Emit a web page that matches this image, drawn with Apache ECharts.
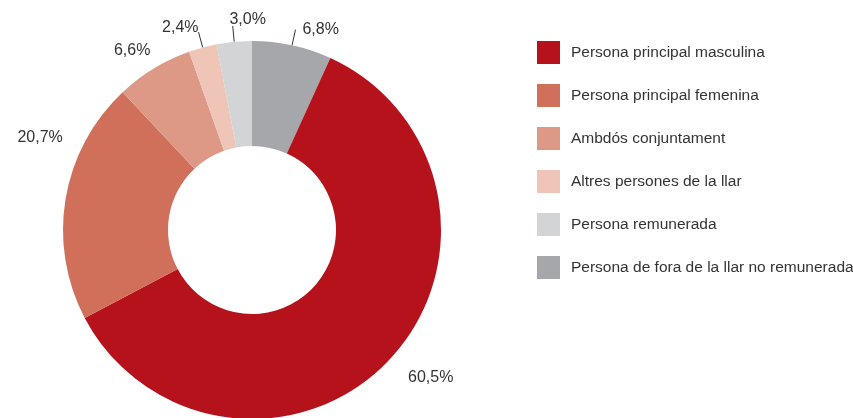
<!DOCTYPE html>
<html lang="ca">
<head>
    <meta charset="UTF-8">
    <title>Persona responsable</title>
    <style>
        html, body { margin: 0; padding: 0; background: #fff; }
        #chart { width: 853px; height: 418px; }
    </style>
</head>
<body>
<div id="chart"></div>
<script src="https://cdn.jsdelivr.net/npm/echarts@6/dist/echarts.min.js"></script>
<script>
    // categories in drawing order (clockwise from 12 o'clock)
    const categories = [
        'Persona de fora de la llar no remunerada',
        'Persona principal masculina',
        'Persona principal femenina',
        'Ambdós conjuntament',
        'Altres persones de la llar',
        'Persona remunerada'
    ];
    const values = [6.8, 60.5, 20.7, 6.6, 2.4, 3.0];
    // legend order
    const legendOrder = [
        'Persona principal masculina',
        'Persona principal femenina',
        'Ambdós conjuntament',
        'Altres persones de la llar',
        'Persona remunerada',
        'Persona de fora de la llar no remunerada'
    ];
    const colors = ['#a6a7ab', '#b5121b', '#d0705a', '#dd9985', '#efc5b8', '#d3d4d6'];
    // which slices get a leader line
    const showLine = [true, false, false, false, true, true];
    // small nudges of the percentage labels from their default place
    const labelShift = [[2, 0], [2, 7], [18, -58], [10, -4], [5, -5], [20, 2]];

    const fontFamily = '"Liberation Sans", Arial, sans-serif';

    let chart = echarts.init(document.getElementById('chart'));
    let option = {
        animation: false,
        legend: {
            orient: 'vertical',
            left: 537,
            top: 41,
            padding: 0,
            itemWidth: 23,
            itemHeight: 23,
            itemGap: 20,
            icon: 'rect',
            data: legendOrder,
            textStyle: {
                color: '#333',
                fontSize: 15.5,
                fontFamily: fontFamily,
                padding: [0, 0, 0, 6]
            }
        },
        series: [
            {
                type: 'pie',
                center: [252, 230],
                radius: [84, 189],
                startAngle: 90,
                clockwise: true,
                avoidLabelOverlap: false,
                data: categories.map((name, i) => ({
                    name: name,
                    value: values[i],
                    itemStyle: {color: colors[i]},
                    labelLine: {show: showLine[i], length: 16, length2: 0}
                })),
                label: {
                    show: true,
                    position: 'outside',
                    color: '#333',
                    fontSize: 16,
                    fontFamily: fontFamily,
                    formatter: p => p.value.toFixed(1).replace('.', ',') + '%'
                },
                labelLayout: p => {
                    let s = labelShift[p.dataIndex];
                    if (p.dataIndex === 5) {
                        // centred above the end of its line
                        return {align: 'center', verticalAlign: 'bottom', dx: s[0], dy: s[1]};
                    }
                    return {dx: s[0], dy: s[1]};
                },
                labelLine: {
                    length: 16,
                    length2: 0,
                    lineStyle: {color: '#333', width: 1}
                },
                itemStyle: {borderWidth: 0},
                emphasis: {disabled: true}
            }
        ]
    };
    chart.setOption(option);
</script>
</body>
</html>
